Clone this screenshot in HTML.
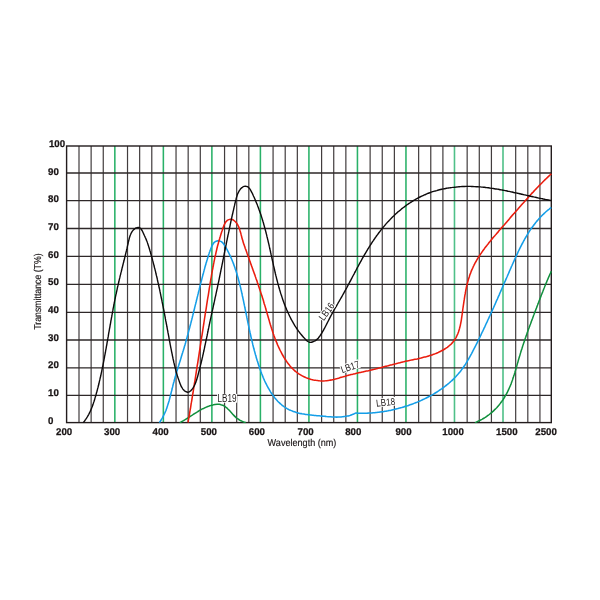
<!DOCTYPE html>
<html><head><meta charset="utf-8"><title>Transmittance</title>
<style>html,body{margin:0;padding:0;background:#fff}svg{display:block}text{font-family:"Liberation Sans",sans-serif}</style></head><body>
<svg width="600" height="600" viewBox="0 0 600 600">
<rect width="600" height="600" fill="#fff"/>
<path d="M79.00,146V422.6M91.13,146V422.6M103.26,146V422.6M127.52,146V422.6M139.65,146V422.6M151.78,146V422.6M176.04,146V422.6M188.17,146V422.6M200.30,146V422.6M224.56,146V422.6M236.69,146V422.6M248.82,146V422.6M273.08,146V422.6M285.21,146V422.6M297.34,146V422.6M321.60,146V422.6M333.73,146V422.6M345.86,146V422.6M370.12,146V422.6M382.25,146V422.6M394.38,146V422.6M418.64,146V422.6M430.77,146V422.6M442.90,146V422.6M467.16,146V422.6M479.29,146V422.6M491.42,146V422.6M515.68,146V422.6M527.81,146V422.6M539.94,146V422.6" stroke="#2e2829" stroke-width="1.2" fill="none" opacity="0.9"/>
<path d="M114.84,146V422.6M163.36,146V422.6M211.88,146V422.6M260.40,146V422.6M308.92,146V422.6M357.44,146V422.6M405.96,146V422.6" stroke="#29b168" stroke-width="1.55" fill="none"/>
<path d="M454.48,146V422.6M503.00,146V422.6" stroke="#4fc088" stroke-width="1.6" fill="none"/>
<path d="M66.6,173H551.3M66.6,200.7H551.3M66.6,228.5H551.3M66.6,256.3H551.3M66.6,284.4H551.3M66.6,312.3H551.3M66.6,340H551.3M66.6,367.8H551.3M66.6,395.3H551.3" stroke="#2e2829" stroke-width="1.3" fill="none"/>
<rect x="66.6" y="146" width="484.70" height="276.60" stroke="#231c1d" stroke-width="1.4" fill="none"/>
<clipPath id="c"><rect x="60" y="140" width="492" height="283.2"/></clipPath>
<g fill="none" stroke-linecap="butt" stroke-linejoin="round" clip-path="url(#c)">
<path d="M179.8,422.6C180.1,422.4 181.1,421.9 181.7,421.6C182.3,421.3 182.9,420.9 183.5,420.6C184.1,420.2 184.7,419.9 185.3,419.5C185.9,419.2 186.5,418.8 187.1,418.4C187.7,418.1 188.3,417.7 188.8,417.3C189.4,416.9 190.0,416.6 190.6,416.2C191.1,415.8 191.7,415.4 192.3,415.1C192.9,414.7 193.4,414.3 194.0,414.0C194.6,413.6 195.2,413.2 195.8,412.8C196.3,412.5 196.9,412.1 197.5,411.8C198.1,411.4 198.7,411.1 199.3,410.7C199.9,410.4 200.5,410.0 201.1,409.7C201.7,409.3 202.3,409.0 202.9,408.7C203.6,408.4 204.2,408.1 204.8,407.8C205.5,407.5 206.1,407.2 206.8,406.9C207.5,406.6 208.1,406.4 208.8,406.1C209.5,405.9 210.2,405.6 210.9,405.4C211.6,405.2 212.3,405.0 213.0,404.9C213.7,404.7 214.4,404.6 215.0,404.5C215.7,404.4 216.4,404.3 217.1,404.3C217.8,404.3 218.4,404.3 219.1,404.3C219.7,404.4 220.4,404.5 221.0,404.7C221.6,404.8 222.2,405.0 222.8,405.3C223.4,405.5 224.0,405.9 224.5,406.2C225.1,406.6 225.6,407.0 226.1,407.4C226.7,407.8 227.2,408.3 227.7,408.8C228.2,409.2 228.7,409.8 229.2,410.3C229.7,410.8 230.2,411.4 230.7,411.9C231.1,412.4 231.6,413.0 232.1,413.5C232.6,414.1 233.1,414.6 233.6,415.1C234.1,415.6 234.6,416.2 235.1,416.6C235.6,417.1 236.1,417.6 236.6,418.0C237.2,418.4 237.7,418.8 238.3,419.2C238.8,419.6 239.4,420.0 240.0,420.3C240.6,420.6 241.2,420.9 241.8,421.2C242.4,421.5 243.1,421.8 243.7,422.0C244.4,422.2 245.5,422.5 245.8,422.6" stroke="#0f8f3c" stroke-width="1.5"/>
<path d="M475.0,422.6C475.3,422.5 476.3,422.1 476.9,421.8C477.6,421.5 478.2,421.2 478.8,420.9C479.5,420.6 480.1,420.3 480.7,420.0C481.3,419.7 481.9,419.4 482.5,419.0C483.1,418.7 483.7,418.3 484.3,418.0C484.8,417.6 485.4,417.3 486.0,416.9C486.5,416.5 487.1,416.1 487.6,415.7C488.2,415.3 488.7,414.9 489.3,414.5C489.8,414.1 490.3,413.7 490.8,413.2C491.4,412.8 491.9,412.4 492.4,411.9C492.9,411.5 493.4,411.0 493.8,410.6C494.3,410.1 494.8,409.6 495.3,409.2C495.7,408.7 496.2,408.2 496.7,407.7C497.1,407.2 497.6,406.7 498.0,406.2C498.4,405.7 498.9,405.2 499.3,404.7C499.7,404.1 500.1,403.6 500.5,403.1C500.9,402.6 501.3,402.0 501.7,401.5C502.1,400.9 502.5,400.4 502.9,399.8C503.2,399.3 503.6,398.7 504.0,398.2C504.3,397.6 504.7,397.0 505.0,396.4C505.4,395.9 505.7,395.3 506.0,394.7C506.3,394.1 506.7,393.5 507.0,392.9C507.3,392.3 507.6,391.8 507.9,391.2C508.2,390.6 508.5,389.9 508.7,389.3C509.0,388.7 509.3,388.1 509.5,387.5C509.8,386.9 510.1,386.3 510.3,385.7C510.6,385.0 510.8,384.4 511.1,383.8C511.3,383.2 511.5,382.5 511.8,381.9C512.0,381.3 512.2,380.6 512.5,380.0C512.7,379.3 512.9,378.7 513.1,378.1C513.3,377.4 513.5,376.8 513.7,376.1C514.0,375.5 514.2,374.8 514.4,374.2C514.6,373.5 514.8,372.9 515.0,372.2C515.1,371.6 515.3,370.9 515.5,370.3C515.7,369.6 515.9,369.0 516.1,368.3C516.3,367.7 516.5,367.0 516.7,366.4C516.9,365.7 517.0,365.1 517.2,364.4C517.4,363.7 517.6,363.1 517.8,362.4C518.0,361.8 518.2,361.1 518.3,360.5C518.5,359.8 518.7,359.2 518.9,358.5C519.1,357.9 519.3,357.2 519.5,356.6C519.7,355.9 519.9,355.3 520.1,354.6C520.3,354.0 520.4,353.3 520.6,352.7C520.8,352.0 521.0,351.4 521.2,350.7C521.4,350.1 521.7,349.4 521.9,348.8C522.1,348.1 522.3,347.5 522.5,346.8C522.7,346.2 522.9,345.6 523.1,344.9C523.3,344.3 523.5,343.6 523.7,343.0C524.0,342.4 524.2,341.7 524.4,341.1C524.6,340.4 524.8,339.8 525.0,339.2C525.2,338.5 525.5,337.9 525.7,337.3C525.9,336.6 526.1,336.0 526.4,335.4C526.6,334.7 526.8,334.1 527.0,333.4C527.2,332.8 527.5,332.2 527.7,331.5C527.9,330.9 528.2,330.3 528.4,329.6C528.6,329.0 528.8,328.4 529.1,327.7C529.3,327.1 529.5,326.5 529.8,325.9C530.0,325.2 530.2,324.6 530.5,324.0C530.7,323.3 530.9,322.7 531.2,322.1C531.4,321.4 531.6,320.8 531.9,320.2C532.1,319.5 532.3,318.9 532.6,318.3C532.8,317.7 533.0,317.0 533.3,316.4C533.5,315.8 533.7,315.1 534.0,314.5C534.2,313.9 534.5,313.2 534.7,312.6C534.9,312.0 535.2,311.3 535.4,310.7C535.7,310.1 535.9,309.5 536.1,308.8C536.4,308.2 536.6,307.6 536.9,306.9C537.1,306.3 537.3,305.7 537.6,305.0C537.8,304.4 538.0,303.8 538.3,303.1C538.5,302.5 538.8,301.9 539.0,301.2C539.3,300.6 539.5,300.0 539.7,299.4C540.0,298.7 540.2,298.1 540.5,297.5C540.7,296.8 540.9,296.2 541.2,295.6C541.4,294.9 541.7,294.3 541.9,293.7C542.2,293.0 542.4,292.4 542.7,291.8C542.9,291.1 543.2,290.5 543.4,289.9C543.7,289.3 543.9,288.6 544.2,288.0C544.4,287.4 544.7,286.8 544.9,286.1C545.2,285.5 545.4,284.9 545.7,284.3C545.9,283.6 546.2,283.0 546.5,282.4C546.7,281.8 547.0,281.1 547.2,280.5C547.5,279.9 547.8,279.3 548.0,278.7C548.3,278.0 548.6,277.4 548.8,276.8C549.1,276.2 549.4,275.6 549.6,275.0C549.9,274.4 550.2,273.7 550.5,273.1C550.7,272.5 551.2,271.6 551.3,271.3" stroke="#0f8f3c" stroke-width="1.5"/>
<path d="M159.4,422.6C159.6,422.3 160.2,421.5 160.5,420.9C160.9,420.4 161.3,419.8 161.6,419.2C162.0,418.7 162.3,418.1 162.6,417.5C162.9,416.9 163.2,416.3 163.5,415.7C163.8,415.2 164.1,414.6 164.4,414.0C164.7,413.4 164.9,412.7 165.2,412.1C165.5,411.5 165.7,410.9 166.0,410.3C166.2,409.7 166.4,409.0 166.7,408.4C166.9,407.8 167.1,407.2 167.3,406.5C167.5,405.9 167.7,405.3 167.9,404.6C168.1,404.0 168.3,403.4 168.5,402.7C168.7,402.1 168.9,401.4 169.1,400.8C169.3,400.1 169.4,399.5 169.6,398.8C169.8,398.2 170.0,397.5 170.1,396.9C170.3,396.2 170.5,395.6 170.6,394.9C170.8,394.3 171.0,393.6 171.1,392.9C171.3,392.3 171.4,391.6 171.6,391.0C171.8,390.3 171.9,389.7 172.1,389.0C172.2,388.3 172.4,387.7 172.6,387.0C172.7,386.4 172.9,385.7 173.0,385.1C173.2,384.4 173.4,383.8 173.5,383.1C173.7,382.5 173.9,381.8 174.1,381.2C174.2,380.5 174.4,379.9 174.6,379.2C174.8,378.6 175.0,377.9 175.1,377.3C175.3,376.6 175.5,376.0 175.7,375.4C175.9,374.7 176.1,374.1 176.2,373.4C176.4,372.8 176.6,372.1 176.8,371.5C177.0,370.9 177.2,370.2 177.4,369.6C177.6,369.0 177.8,368.3 178.0,367.7C178.2,367.0 178.4,366.4 178.6,365.8C178.8,365.1 179.0,364.5 179.2,363.8C179.4,363.2 179.6,362.6 179.8,361.9C180.0,361.3 180.2,360.7 180.4,360.0C180.6,359.4 180.8,358.8 181.0,358.1C181.1,357.5 181.3,356.8 181.5,356.2C181.7,355.6 181.9,354.9 182.1,354.3C182.3,353.7 182.5,353.0 182.7,352.4C182.9,351.7 183.1,351.1 183.3,350.5C183.5,349.8 183.7,349.2 183.9,348.5C184.1,347.9 184.3,347.2 184.4,346.6C184.6,346.0 184.8,345.3 185.0,344.7C185.2,344.0 185.4,343.4 185.6,342.7C185.7,342.1 185.9,341.4 186.1,340.8C186.3,340.2 186.5,339.5 186.6,338.9C186.8,338.2 187.0,337.6 187.2,336.9C187.4,336.3 187.5,335.6 187.7,335.0C187.9,334.3 188.1,333.7 188.2,333.0C188.4,332.4 188.6,331.7 188.7,331.1C188.9,330.4 189.1,329.8 189.3,329.1C189.4,328.5 189.6,327.8 189.8,327.2C189.9,326.5 190.1,325.9 190.3,325.2C190.5,324.6 190.6,323.9 190.8,323.3C191.0,322.6 191.1,322.0 191.3,321.3C191.5,320.7 191.6,320.0 191.8,319.4C191.9,318.7 192.1,318.0 192.3,317.4C192.4,316.7 192.6,316.1 192.8,315.4C192.9,314.8 193.1,314.1 193.3,313.5C193.4,312.8 193.6,312.2 193.7,311.5C193.9,310.9 194.1,310.2 194.2,309.6C194.4,308.9 194.6,308.3 194.7,307.6C194.9,306.9 195.0,306.3 195.2,305.6C195.4,305.0 195.5,304.3 195.7,303.7C195.8,303.0 196.0,302.4 196.2,301.7C196.3,301.1 196.5,300.4 196.6,299.8C196.8,299.1 197.0,298.5 197.1,297.8C197.3,297.2 197.4,296.5 197.6,295.9C197.8,295.2 197.9,294.6 198.1,293.9C198.2,293.3 198.4,292.6 198.6,292.0C198.7,291.3 198.9,290.7 199.1,290.0C199.2,289.4 199.4,288.7 199.5,288.1C199.7,287.4 199.9,286.8 200.0,286.2C200.2,285.5 200.4,284.9 200.5,284.2C200.7,283.6 200.8,282.9 201.0,282.3C201.2,281.6 201.3,281.0 201.5,280.4C201.7,279.7 201.8,279.1 202.0,278.4C202.2,277.8 202.3,277.1 202.5,276.5C202.7,275.9 202.8,275.2 203.0,274.6C203.2,273.9 203.3,273.3 203.5,272.7C203.7,272.0 203.8,271.4 204.0,270.8C204.2,270.1 204.3,269.5 204.5,268.9C204.7,268.2 204.9,267.6 205.0,266.9C205.2,266.3 205.4,265.7 205.6,265.0C205.8,264.4 205.9,263.8 206.1,263.1C206.3,262.5 206.5,261.8 206.7,261.2C206.9,260.6 207.1,259.9 207.3,259.3C207.5,258.6 207.7,258.0 207.9,257.3C208.1,256.7 208.3,256.0 208.5,255.3C208.7,254.7 208.9,254.0 209.2,253.3C209.4,252.7 209.6,252.0 209.9,251.3C210.1,250.6 210.3,249.9 210.6,249.3C210.8,248.6 211.1,247.9 211.4,247.2C211.7,246.6 212.0,245.9 212.3,245.3C212.6,244.7 213.0,244.1 213.3,243.6C213.7,243.1 214.1,242.6 214.6,242.2C215.0,241.8 215.5,241.5 216.1,241.3C216.6,241.0 217.2,240.9 217.8,240.8C218.4,240.8 219.0,240.8 219.6,240.9C220.2,241.1 220.8,241.3 221.3,241.6C221.8,241.9 222.3,242.4 222.8,242.9C223.2,243.3 223.6,243.9 224.0,244.5C224.4,245.0 224.7,245.7 225.1,246.2C225.4,246.8 225.8,247.4 226.1,248.0C226.5,248.6 226.8,249.2 227.2,249.8C227.5,250.4 227.8,251.0 228.1,251.6C228.4,252.2 228.7,252.9 229.0,253.5C229.3,254.1 229.6,254.7 229.9,255.3C230.2,255.9 230.5,256.5 230.8,257.1C231.0,257.8 231.3,258.4 231.6,259.0C231.8,259.6 232.1,260.2 232.3,260.9C232.6,261.5 232.8,262.1 233.1,262.7C233.3,263.3 233.6,264.0 233.8,264.6C234.0,265.2 234.2,265.9 234.5,266.5C234.7,267.1 234.9,267.7 235.1,268.4C235.3,269.0 235.5,269.6 235.8,270.3C236.0,270.9 236.2,271.6 236.4,272.2C236.6,272.8 236.8,273.5 237.0,274.1C237.1,274.8 237.3,275.4 237.5,276.0C237.7,276.7 237.9,277.3 238.1,278.0C238.2,278.6 238.4,279.3 238.6,279.9C238.8,280.5 238.9,281.2 239.1,281.8C239.3,282.5 239.4,283.1 239.6,283.8C239.8,284.4 239.9,285.1 240.1,285.7C240.3,286.4 240.4,287.0 240.6,287.7C240.7,288.3 240.9,289.0 241.0,289.6C241.2,290.3 241.3,291.0 241.5,291.6C241.6,292.3 241.8,292.9 241.9,293.6C242.1,294.2 242.2,294.9 242.3,295.5C242.5,296.2 242.6,296.8 242.8,297.5C242.9,298.2 243.0,298.8 243.2,299.5C243.3,300.1 243.5,300.8 243.6,301.4C243.7,302.1 243.9,302.8 244.0,303.4C244.1,304.1 244.3,304.7 244.4,305.4C244.6,306.0 244.7,306.7 244.8,307.3C245.0,308.0 245.1,308.7 245.2,309.3C245.4,310.0 245.5,310.6 245.6,311.3C245.8,311.9 245.9,312.6 246.0,313.3C246.2,313.9 246.3,314.6 246.4,315.2C246.6,315.9 246.7,316.5 246.8,317.2C247.0,317.9 247.1,318.5 247.2,319.2C247.4,319.8 247.5,320.5 247.6,321.1C247.8,321.8 247.9,322.5 248.0,323.1C248.2,323.8 248.3,324.4 248.4,325.1C248.6,325.7 248.7,326.4 248.9,327.0C249.0,327.7 249.1,328.4 249.3,329.0C249.4,329.7 249.5,330.3 249.7,331.0C249.8,331.6 250.0,332.3 250.1,332.9C250.3,333.6 250.4,334.2 250.6,334.9C250.7,335.6 250.8,336.2 251.0,336.9C251.1,337.5 251.3,338.2 251.4,338.8C251.6,339.5 251.7,340.1 251.9,340.8C252.1,341.4 252.2,342.1 252.4,342.7C252.5,343.4 252.7,344.0 252.8,344.7C253.0,345.3 253.2,346.0 253.3,346.6C253.5,347.3 253.7,347.9 253.8,348.6C254.0,349.2 254.2,349.9 254.3,350.5C254.5,351.2 254.7,351.8 254.9,352.4C255.0,353.1 255.2,353.7 255.4,354.4C255.6,355.0 255.8,355.7 256.0,356.3C256.1,357.0 256.3,357.6 256.5,358.2C256.7,358.9 256.9,359.5 257.1,360.2C257.3,360.8 257.5,361.4 257.7,362.1C257.9,362.7 258.1,363.4 258.3,364.0C258.5,364.6 258.7,365.3 258.9,365.9C259.2,366.5 259.4,367.2 259.6,367.8C259.8,368.5 260.0,369.1 260.3,369.7C260.5,370.4 260.7,371.0 260.9,371.6C261.2,372.3 261.4,372.9 261.6,373.5C261.9,374.1 262.1,374.8 262.4,375.4C262.6,376.0 262.9,376.6 263.1,377.3C263.4,377.9 263.7,378.5 263.9,379.1C264.2,379.7 264.5,380.4 264.7,381.0C265.0,381.6 265.3,382.2 265.6,382.8C265.9,383.4 266.2,384.0 266.5,384.6C266.8,385.2 267.1,385.8 267.4,386.4C267.7,387.0 268.0,387.6 268.4,388.2C268.7,388.8 269.0,389.3 269.4,389.9C269.7,390.5 270.1,391.1 270.4,391.6C270.8,392.2 271.1,392.8 271.5,393.3C271.9,393.9 272.3,394.4 272.7,395.0C273.1,395.5 273.5,396.1 273.9,396.6C274.3,397.2 274.7,397.7 275.1,398.2C275.6,398.7 276.0,399.3 276.4,399.8C276.9,400.3 277.3,400.8 277.8,401.3C278.3,401.7 278.7,402.2 279.2,402.7C279.7,403.1 280.2,403.6 280.7,404.0C281.2,404.5 281.7,404.9 282.2,405.3C282.7,405.7 283.2,406.2 283.8,406.5C284.3,406.9 284.8,407.3 285.4,407.6C286.0,408.0 286.5,408.3 287.1,408.7C287.6,409.0 288.2,409.3 288.8,409.6C289.4,409.9 290.0,410.1 290.6,410.4C291.2,410.7 291.8,410.9 292.4,411.1C293.0,411.4 293.6,411.6 294.3,411.8C294.9,412.0 295.5,412.2 296.2,412.4C296.8,412.6 297.4,412.8 298.1,412.9C298.7,413.1 299.4,413.2 300.0,413.4C300.7,413.5 301.4,413.7 302.0,413.8C302.7,413.9 303.4,414.0 304.0,414.1C304.7,414.3 305.4,414.4 306.0,414.5C306.7,414.6 307.4,414.6 308.1,414.7C308.8,414.8 309.4,414.9 310.1,415.0C310.8,415.1 311.5,415.1 312.2,415.2C312.9,415.3 313.5,415.3 314.2,415.4C314.9,415.5 315.6,415.5 316.3,415.6C317.0,415.6 317.6,415.7 318.3,415.8C319.0,415.8 319.7,415.9 320.4,415.9C321.1,416.0 321.7,416.1 322.4,416.1C323.1,416.2 323.8,416.2 324.4,416.3C325.1,416.4 325.8,416.4 326.4,416.5C327.1,416.5 327.8,416.6 328.4,416.7C329.1,416.7 329.8,416.8 330.4,416.8C331.1,416.9 331.7,416.9 332.4,416.9C333.0,417.0 333.7,417.0 334.4,417.0C335.0,417.0 335.7,417.1 336.3,417.1C337.0,417.1 337.6,417.1 338.3,417.0C338.9,417.0 339.6,417.0 340.2,417.0C340.9,416.9 341.5,416.9 342.2,416.8C342.8,416.8 343.5,416.7 344.1,416.6C344.8,416.5 345.4,416.4 346.1,416.3C346.7,416.2 347.4,416.0 348.0,415.9C348.7,415.7 349.3,415.6 350.0,415.4C350.6,415.2 351.3,415.0 351.9,414.7C352.5,414.5 353.2,414.3 353.8,414.0C354.5,413.7 355.1,413.2 355.8,413.1C356.5,413.0 357.2,413.2 357.8,413.2C358.5,413.2 359.2,413.2 359.9,413.2C360.6,413.2 361.2,413.2 361.9,413.2C362.6,413.2 363.3,413.2 363.9,413.2C364.6,413.2 365.3,413.2 366.0,413.2C366.6,413.2 367.3,413.1 368.0,413.1C368.7,413.1 369.3,413.0 370.0,413.0C370.7,413.0 371.4,412.9 372.0,412.9C372.7,412.8 373.4,412.8 374.0,412.7C374.7,412.7 375.4,412.6 376.0,412.5C376.7,412.5 377.4,412.4 378.0,412.3C378.7,412.2 379.4,412.2 380.0,412.1C380.7,412.0 381.4,411.9 382.0,411.8C382.7,411.7 383.3,411.6 384.0,411.5C384.7,411.4 385.3,411.3 386.0,411.2C386.7,411.0 387.3,410.9 388.0,410.8C388.6,410.7 389.3,410.5 389.9,410.4C390.6,410.3 391.3,410.1 391.9,410.0C392.6,409.9 393.2,409.7 393.9,409.6C394.5,409.4 395.2,409.3 395.8,409.1C396.5,408.9 397.1,408.8 397.8,408.6C398.4,408.4 399.1,408.3 399.7,408.1C400.4,407.9 401.0,407.7 401.7,407.5C402.3,407.3 403.0,407.1 403.6,406.9C404.3,406.8 404.9,406.6 405.6,406.3C406.2,406.1 406.8,405.9 407.5,405.7C408.1,405.5 408.8,405.3 409.4,405.1C410.0,404.8 410.7,404.6 411.3,404.4C412.0,404.2 412.6,403.9 413.2,403.7C413.9,403.4 414.5,403.2 415.1,402.9C415.8,402.7 416.4,402.4 417.0,402.2C417.7,401.9 418.3,401.7 418.9,401.4C419.5,401.1 420.2,400.9 420.8,400.6C421.4,400.3 422.0,400.0 422.6,399.7C423.2,399.4 423.9,399.2 424.5,398.9C425.1,398.6 425.7,398.3 426.3,398.0C426.9,397.7 427.5,397.3 428.1,397.0C428.7,396.7 429.3,396.4 429.9,396.1C430.5,395.8 431.1,395.4 431.7,395.1C432.3,394.8 432.9,394.4 433.5,394.1C434.1,393.7 434.6,393.4 435.2,393.0C435.8,392.7 436.4,392.3 436.9,392.0C437.5,391.6 438.1,391.2 438.6,390.9C439.2,390.5 439.8,390.1 440.3,389.7C440.9,389.4 441.4,389.0 442.0,388.6C442.5,388.2 443.1,387.8 443.6,387.4C444.2,387.0 444.7,386.6 445.2,386.2C445.8,385.8 446.3,385.4 446.8,384.9C447.4,384.5 447.9,384.1 448.4,383.7C448.9,383.2 449.4,382.8 449.9,382.3C450.4,381.9 450.9,381.5 451.4,381.0C451.9,380.6 452.4,380.1 452.9,379.6C453.3,379.2 453.8,378.7 454.3,378.2C454.8,377.8 455.2,377.3 455.7,376.8C456.1,376.3 456.6,375.8 457.0,375.3C457.5,374.8 457.9,374.3 458.4,373.8C458.8,373.3 459.2,372.8 459.6,372.3C460.1,371.8 460.5,371.2 460.9,370.7C461.3,370.2 461.7,369.6 462.1,369.1C462.5,368.6 462.9,368.0 463.3,367.5C463.6,366.9 464.0,366.4 464.4,365.8C464.8,365.3 465.1,364.7 465.5,364.1C465.8,363.6 466.2,363.0 466.6,362.4C466.9,361.9 467.3,361.3 467.6,360.7C467.9,360.1 468.3,359.5 468.6,359.0C469.0,358.4 469.3,357.8 469.6,357.2C470.0,356.6 470.3,356.0 470.6,355.4C470.9,354.8 471.2,354.2 471.6,353.6C471.9,353.0 472.2,352.4 472.5,351.8C472.8,351.2 473.1,350.6 473.4,350.0C473.8,349.4 474.1,348.8 474.4,348.2C474.7,347.6 475.0,347.0 475.3,346.4C475.6,345.8 475.9,345.2 476.2,344.6C476.5,344.0 476.8,343.4 477.1,342.8C477.4,342.2 477.7,341.6 478.0,341.0C478.3,340.4 478.6,339.7 478.9,339.1C479.2,338.5 479.5,337.9 479.8,337.3C480.1,336.7 480.4,336.1 480.7,335.5C481.0,334.9 481.2,334.3 481.5,333.7C481.8,333.1 482.1,332.5 482.4,331.8C482.7,331.2 483.0,330.6 483.3,330.0C483.6,329.4 483.8,328.8 484.1,328.2C484.4,327.6 484.7,327.0 485.0,326.4C485.3,325.7 485.6,325.1 485.8,324.5C486.1,323.9 486.4,323.3 486.7,322.7C487.0,322.1 487.3,321.5 487.5,320.9C487.8,320.2 488.1,319.6 488.4,319.0C488.7,318.4 488.9,317.8 489.2,317.2C489.5,316.6 489.8,316.0 490.1,315.3C490.3,314.7 490.6,314.1 490.9,313.5C491.2,312.9 491.4,312.3 491.7,311.7C492.0,311.1 492.3,310.4 492.5,309.8C492.8,309.2 493.1,308.6 493.4,308.0C493.6,307.4 493.9,306.8 494.2,306.1C494.5,305.5 494.7,304.9 495.0,304.3C495.3,303.7 495.6,303.1 495.8,302.5C496.1,301.8 496.4,301.2 496.6,300.6C496.9,300.0 497.2,299.4 497.5,298.8C497.7,298.1 498.0,297.5 498.3,296.9C498.5,296.3 498.8,295.7 499.1,295.1C499.4,294.4 499.6,293.8 499.9,293.2C500.2,292.6 500.4,292.0 500.7,291.4C501.0,290.7 501.2,290.1 501.5,289.5C501.8,288.9 502.1,288.3 502.3,287.6C502.6,287.0 502.9,286.4 503.1,285.8C503.4,285.2 503.7,284.6 503.9,283.9C504.2,283.3 504.5,282.7 504.7,282.1C505.0,281.5 505.3,280.8 505.6,280.2C505.8,279.6 506.1,279.0 506.4,278.4C506.6,277.7 506.9,277.1 507.2,276.5C507.4,275.9 507.7,275.3 508.0,274.6C508.3,274.0 508.5,273.4 508.8,272.8C509.1,272.2 509.3,271.5 509.6,270.9C509.9,270.3 510.2,269.7 510.4,269.1C510.7,268.4 511.0,267.8 511.2,267.2C511.5,266.6 511.8,266.0 512.1,265.3C512.3,264.7 512.6,264.1 512.9,263.5C513.2,262.9 513.4,262.2 513.7,261.6C514.0,261.0 514.3,260.4 514.5,259.8C514.8,259.1 515.1,258.5 515.4,257.9C515.7,257.3 515.9,256.7 516.2,256.0C516.5,255.4 516.8,254.8 517.1,254.2C517.4,253.6 517.7,253.0 517.9,252.4C518.2,251.7 518.5,251.1 518.8,250.5C519.1,249.9 519.4,249.3 519.7,248.7C520.0,248.1 520.3,247.5 520.6,246.9C520.9,246.3 521.2,245.7 521.5,245.1C521.8,244.5 522.1,243.9 522.5,243.3C522.8,242.7 523.1,242.1 523.4,241.5C523.7,240.9 524.0,240.3 524.4,239.7C524.7,239.1 525.0,238.5 525.4,238.0C525.7,237.4 526.0,236.8 526.4,236.2C526.7,235.6 527.1,235.1 527.4,234.5C527.8,233.9 528.1,233.4 528.5,232.8C528.8,232.2 529.2,231.7 529.5,231.1C529.9,230.6 530.3,230.0 530.7,229.4C531.0,228.9 531.4,228.3 531.8,227.8C532.2,227.3 532.6,226.7 533.0,226.2C533.3,225.6 533.7,225.1 534.2,224.6C534.6,224.0 535.0,223.5 535.4,223.0C535.8,222.5 536.2,222.0 536.6,221.4C537.1,220.9 537.5,220.4 537.9,219.9C538.4,219.4 538.8,218.9 539.3,218.4C539.7,217.9 540.2,217.4 540.6,216.9C541.1,216.5 541.6,216.0 542.0,215.5C542.5,215.0 543.0,214.5 543.5,214.1C544.0,213.6 544.4,213.2 544.9,212.7C545.4,212.2 546.0,211.8 546.5,211.3C547.0,210.9 547.5,210.5 548.0,210.0C548.6,209.6 549.1,209.2 549.6,208.7C550.2,208.3 551.0,207.7 551.3,207.5" stroke="#149ee8" stroke-width="1.55"/>
<path d="M188.0,422.6C188.1,422.3 188.2,421.3 188.3,420.6C188.5,420.0 188.6,419.3 188.7,418.7C188.8,418.0 188.9,417.4 189.0,416.7C189.1,416.0 189.2,415.4 189.4,414.7C189.5,414.1 189.6,413.4 189.7,412.8C189.8,412.1 189.9,411.4 190.0,410.8C190.1,410.1 190.2,409.5 190.4,408.8C190.5,408.1 190.6,407.5 190.7,406.8C190.8,406.2 190.9,405.5 191.0,404.9C191.1,404.2 191.2,403.5 191.3,402.9C191.4,402.2 191.6,401.6 191.7,400.9C191.8,400.2 191.9,399.6 192.0,398.9C192.1,398.3 192.2,397.6 192.3,396.9C192.4,396.3 192.5,395.6 192.6,395.0C192.7,394.3 192.8,393.6 193.0,393.0C193.1,392.3 193.2,391.7 193.3,391.0C193.4,390.3 193.5,389.7 193.6,389.0C193.7,388.4 193.8,387.7 193.9,387.0C194.0,386.4 194.1,385.7 194.2,385.1C194.3,384.4 194.4,383.7 194.5,383.1C194.6,382.4 194.8,381.7 194.9,381.1C195.0,380.4 195.1,379.8 195.2,379.1C195.3,378.4 195.4,377.8 195.5,377.1C195.6,376.5 195.7,375.8 195.8,375.1C195.9,374.5 196.0,373.8 196.1,373.1C196.2,372.5 196.3,371.8 196.4,371.2C196.5,370.5 196.6,369.8 196.7,369.2C196.8,368.5 196.9,367.8 197.0,367.2C197.1,366.5 197.2,365.9 197.3,365.2C197.5,364.5 197.6,363.9 197.7,363.2C197.8,362.5 197.9,361.9 198.0,361.2C198.1,360.6 198.2,359.9 198.3,359.2C198.4,358.6 198.5,357.9 198.6,357.2C198.7,356.6 198.8,355.9 198.9,355.3C199.0,354.6 199.1,353.9 199.2,353.3C199.3,352.6 199.4,351.9 199.5,351.3C199.6,350.6 199.7,350.0 199.8,349.3C199.9,348.6 200.0,348.0 200.1,347.3C200.2,346.6 200.3,346.0 200.4,345.3C200.5,344.7 200.6,344.0 200.7,343.3C200.8,342.7 200.9,342.0 201.0,341.3C201.1,340.7 201.2,340.0 201.3,339.4C201.4,338.7 201.5,338.0 201.6,337.4C201.7,336.7 201.9,336.1 202.0,335.4C202.1,334.7 202.2,334.1 202.3,333.4C202.4,332.7 202.5,332.1 202.6,331.4C202.7,330.8 202.8,330.1 202.9,329.4C203.0,328.8 203.1,328.1 203.2,327.4C203.3,326.8 203.4,326.1 203.5,325.5C203.6,324.8 203.7,324.1 203.8,323.5C203.9,322.8 204.0,322.2 204.1,321.5C204.2,320.8 204.3,320.2 204.4,319.5C204.5,318.9 204.6,318.2 204.7,317.5C204.8,316.9 204.9,316.2 205.0,315.6C205.1,314.9 205.2,314.2 205.3,313.6C205.4,312.9 205.5,312.3 205.6,311.6C205.8,310.9 205.9,310.3 206.0,309.6C206.1,309.0 206.2,308.3 206.3,307.6C206.4,307.0 206.5,306.3 206.6,305.7C206.7,305.0 206.8,304.3 206.9,303.7C207.0,303.0 207.1,302.4 207.2,301.7C207.3,301.0 207.4,300.4 207.5,299.7C207.6,299.1 207.7,298.4 207.8,297.8C207.9,297.1 208.1,296.4 208.2,295.8C208.3,295.1 208.4,294.5 208.5,293.8C208.6,293.1 208.7,292.5 208.8,291.8C208.9,291.2 209.0,290.5 209.1,289.9C209.2,289.2 209.3,288.6 209.4,287.9C209.5,287.2 209.6,286.6 209.8,285.9C209.9,285.3 210.0,284.6 210.1,284.0C210.2,283.3 210.3,282.6 210.4,282.0C210.5,281.3 210.6,280.7 210.7,280.0C210.8,279.4 210.9,278.7 211.1,278.1C211.2,277.4 211.3,276.8 211.4,276.1C211.5,275.4 211.6,274.8 211.7,274.1C211.8,273.5 212.0,272.8 212.1,272.2C212.2,271.5 212.3,270.9 212.4,270.2C212.5,269.6 212.7,268.9 212.8,268.3C212.9,267.6 213.0,266.9 213.2,266.3C213.3,265.6 213.4,265.0 213.5,264.3C213.7,263.7 213.8,263.0 213.9,262.4C214.0,261.7 214.2,261.1 214.3,260.4C214.4,259.8 214.6,259.1 214.7,258.4C214.8,257.8 215.0,257.1 215.1,256.5C215.3,255.8 215.4,255.2 215.6,254.5C215.7,253.9 215.9,253.2 216.0,252.6C216.2,251.9 216.3,251.2 216.5,250.6C216.6,249.9 216.8,249.3 216.9,248.6C217.1,248.0 217.3,247.3 217.4,246.6C217.6,246.0 217.8,245.3 217.9,244.7C218.1,244.0 218.3,243.4 218.5,242.7C218.7,242.0 218.8,241.4 219.0,240.7C219.2,240.1 219.4,239.4 219.6,238.8C219.8,238.1 220.0,237.4 220.2,236.8C220.4,236.1 220.6,235.5 220.8,234.8C221.0,234.1 221.2,233.5 221.4,232.8C221.6,232.1 221.8,231.5 222.1,230.8C222.3,230.2 222.5,229.5 222.7,228.8C223.0,228.2 223.2,227.5 223.4,226.9C223.7,226.2 223.9,225.5 224.2,224.9C224.5,224.3 224.8,223.7 225.1,223.2C225.4,222.6 225.7,222.1 226.1,221.6C226.5,221.2 226.9,220.8 227.3,220.4C227.8,220.1 228.3,219.8 228.8,219.6C229.3,219.4 229.9,219.3 230.4,219.3C231.0,219.3 231.6,219.4 232.1,219.5C232.7,219.7 233.3,220.0 233.8,220.3C234.3,220.6 234.8,221.0 235.2,221.5C235.7,222.0 236.1,222.5 236.5,223.1C236.9,223.6 237.3,224.3 237.7,224.9C238.0,225.5 238.4,226.2 238.7,226.9C239.0,227.6 239.2,228.3 239.5,228.9C239.7,229.6 239.9,230.3 240.1,231.0C240.3,231.6 240.5,232.3 240.7,232.9C240.9,233.6 241.0,234.2 241.2,234.9C241.4,235.5 241.5,236.2 241.7,236.8C241.8,237.4 242.0,238.1 242.2,238.7C242.4,239.3 242.6,240.0 242.8,240.6C242.9,241.2 243.1,241.9 243.3,242.5C243.5,243.1 243.7,243.8 243.9,244.4C244.2,245.0 244.4,245.7 244.6,246.3C244.8,246.9 245.0,247.5 245.2,248.2C245.4,248.8 245.7,249.4 245.9,250.1C246.1,250.7 246.3,251.3 246.6,251.9C246.8,252.6 247.0,253.2 247.2,253.8C247.5,254.5 247.7,255.1 247.9,255.7C248.1,256.3 248.4,257.0 248.6,257.6C248.8,258.2 249.0,258.8 249.3,259.5C249.5,260.1 249.7,260.7 249.9,261.4C250.2,262.0 250.4,262.6 250.6,263.2C250.8,263.9 251.1,264.5 251.3,265.1C251.5,265.8 251.7,266.4 252.0,267.0C252.2,267.7 252.4,268.3 252.6,268.9C252.9,269.5 253.1,270.2 253.3,270.8C253.5,271.4 253.8,272.1 254.0,272.7C254.2,273.3 254.4,274.0 254.7,274.6C254.9,275.2 255.1,275.8 255.3,276.5C255.6,277.1 255.8,277.7 256.0,278.4C256.2,279.0 256.4,279.6 256.7,280.3C256.9,280.9 257.1,281.5 257.3,282.2C257.5,282.8 257.7,283.4 258.0,284.1C258.2,284.7 258.4,285.3 258.6,286.0C258.8,286.6 259.0,287.2 259.2,287.9C259.5,288.5 259.7,289.2 259.9,289.8C260.1,290.4 260.3,291.1 260.5,291.7C260.7,292.3 260.9,293.0 261.1,293.6C261.3,294.2 261.5,294.9 261.8,295.5C262.0,296.2 262.2,296.8 262.4,297.4C262.6,298.1 262.8,298.7 263.0,299.3C263.2,300.0 263.4,300.6 263.6,301.3C263.7,301.9 263.9,302.5 264.1,303.2C264.3,303.8 264.5,304.5 264.7,305.1C264.9,305.8 265.1,306.4 265.3,307.0C265.5,307.7 265.7,308.3 265.8,309.0C266.0,309.6 266.2,310.2 266.4,310.9C266.6,311.5 266.8,312.2 266.9,312.8C267.1,313.5 267.3,314.1 267.5,314.7C267.7,315.4 267.9,316.0 268.1,316.7C268.2,317.3 268.4,318.0 268.6,318.6C268.8,319.2 269.0,319.9 269.2,320.5C269.4,321.2 269.5,321.8 269.7,322.4C269.9,323.1 270.1,323.7 270.3,324.4C270.5,325.0 270.7,325.6 270.9,326.3C271.1,326.9 271.3,327.5 271.5,328.2C271.7,328.8 271.9,329.4 272.1,330.1C272.3,330.7 272.5,331.3 272.7,332.0C272.9,332.6 273.2,333.2 273.4,333.9C273.6,334.5 273.8,335.1 274.0,335.8C274.3,336.4 274.5,337.0 274.7,337.6C274.9,338.3 275.2,338.9 275.4,339.5C275.7,340.1 275.9,340.7 276.2,341.4C276.4,342.0 276.7,342.6 276.9,343.2C277.2,343.8 277.4,344.4 277.7,345.1C278.0,345.7 278.2,346.3 278.5,346.9C278.8,347.5 279.1,348.1 279.4,348.7C279.6,349.3 279.9,349.9 280.2,350.5C280.5,351.1 280.8,351.7 281.2,352.3C281.5,352.9 281.8,353.5 282.1,354.1C282.4,354.7 282.8,355.3 283.1,355.9C283.4,356.5 283.8,357.0 284.1,357.6C284.5,358.2 284.8,358.8 285.2,359.3C285.6,359.9 286.0,360.5 286.3,361.0C286.7,361.6 287.1,362.1 287.5,362.7C287.9,363.2 288.3,363.8 288.7,364.3C289.1,364.8 289.6,365.3 290.0,365.9C290.4,366.4 290.9,366.9 291.3,367.4C291.8,367.9 292.2,368.3 292.7,368.8C293.2,369.3 293.6,369.7 294.1,370.2C294.6,370.6 295.1,371.1 295.6,371.5C296.1,371.9 296.7,372.3 297.2,372.7C297.7,373.1 298.3,373.5 298.8,373.9C299.4,374.2 299.9,374.6 300.5,374.9C301.1,375.3 301.6,375.6 302.2,375.9C302.8,376.2 303.4,376.5 304.0,376.8C304.6,377.1 305.2,377.4 305.8,377.6C306.4,377.9 307.1,378.1 307.7,378.3C308.3,378.6 309.0,378.8 309.6,379.0C310.2,379.2 310.9,379.3 311.5,379.5C312.2,379.7 312.8,379.8 313.5,380.0C314.2,380.1 314.8,380.2 315.5,380.3C316.1,380.4 316.8,380.5 317.5,380.6C318.1,380.7 318.8,380.7 319.5,380.8C320.1,380.8 320.8,380.8 321.5,380.9C322.2,380.9 322.8,380.9 323.5,380.9C324.2,380.8 324.8,380.8 325.5,380.8C326.2,380.7 326.8,380.6 327.5,380.6C328.2,380.5 328.8,380.4 329.5,380.3C330.1,380.2 330.8,380.0 331.5,379.9C332.1,379.8 332.8,379.6 333.4,379.5C334.1,379.3 334.7,379.2 335.4,379.0C336.0,378.8 336.7,378.6 337.3,378.5C338.0,378.3 338.6,378.1 339.3,377.9C339.9,377.7 340.6,377.5 341.2,377.3C341.9,377.1 342.5,376.9 343.1,376.8C343.8,376.6 344.4,376.4 345.1,376.2C345.7,376.0 346.4,375.8 347.0,375.6C347.7,375.5 348.3,375.3 349.0,375.1C349.6,375.0 350.2,374.8 350.9,374.6C351.5,374.5 352.2,374.3 352.8,374.2C353.5,374.0 354.1,373.8 354.8,373.7C355.4,373.5 356.1,373.4 356.7,373.2C357.4,373.1 358.0,373.0 358.6,372.8C359.3,372.7 359.9,372.5 360.6,372.4C361.2,372.2 361.9,372.1 362.5,372.0C363.2,371.8 363.8,371.7 364.5,371.5C365.1,371.4 365.8,371.2 366.4,371.1C367.1,371.0 367.7,370.8 368.4,370.7C369.0,370.5 369.7,370.4 370.3,370.2C371.0,370.0 371.6,369.9 372.3,369.7C372.9,369.6 373.6,369.4 374.2,369.3C374.9,369.1 375.5,368.9 376.2,368.8C376.9,368.6 377.5,368.4 378.2,368.3C378.8,368.1 379.5,367.9 380.1,367.8C380.8,367.6 381.4,367.4 382.1,367.3C382.7,367.1 383.4,366.9 384.0,366.7C384.7,366.6 385.3,366.4 386.0,366.2C386.6,366.0 387.3,365.9 388.0,365.7C388.6,365.5 389.3,365.4 389.9,365.2C390.6,365.0 391.2,364.8 391.9,364.7C392.5,364.5 393.2,364.3 393.8,364.2C394.5,364.0 395.1,363.8 395.8,363.7C396.4,363.5 397.1,363.3 397.7,363.2C398.4,363.0 399.0,362.8 399.7,362.7C400.3,362.5 401.0,362.4 401.6,362.2C402.3,362.1 402.9,361.9 403.6,361.8C404.2,361.6 404.8,361.5 405.5,361.3C406.1,361.2 406.8,361.0 407.4,360.9C408.1,360.7 408.7,360.6 409.4,360.5C410.0,360.3 410.6,360.2 411.3,360.1C411.9,359.9 412.6,359.8 413.2,359.7C413.8,359.5 414.5,359.4 415.1,359.3C415.8,359.1 416.4,359.0 417.0,358.9C417.7,358.7 418.3,358.6 419.0,358.4C419.6,358.3 420.3,358.1 420.9,358.0C421.5,357.8 422.2,357.7 422.8,357.5C423.5,357.4 424.1,357.2 424.8,357.0C425.4,356.9 426.0,356.7 426.7,356.5C427.3,356.3 428.0,356.1 428.6,355.9C429.3,355.8 429.9,355.5 430.6,355.3C431.2,355.1 431.9,354.9 432.5,354.7C433.2,354.4 433.8,354.2 434.5,354.0C435.1,353.7 435.8,353.5 436.4,353.2C437.1,352.9 437.7,352.6 438.3,352.4C439.0,352.1 439.6,351.8 440.2,351.5C440.8,351.2 441.5,350.9 442.1,350.5C442.7,350.2 443.3,349.9 443.9,349.5C444.5,349.2 445.0,348.8 445.6,348.4C446.2,348.1 446.7,347.7 447.3,347.3C447.8,346.9 448.3,346.5 448.8,346.1C449.4,345.7 449.9,345.2 450.3,344.8C450.8,344.4 451.3,343.9 451.7,343.4C452.2,343.0 452.6,342.5 453.0,342.0C453.4,341.5 453.8,341.0 454.2,340.5C454.5,340.0 454.9,339.4 455.2,338.9C455.5,338.4 455.9,337.8 456.2,337.3C456.5,336.7 456.7,336.1 457.0,335.5C457.3,335.0 457.5,334.4 457.8,333.8C458.0,333.2 458.2,332.6 458.5,332.0C458.7,331.3 458.9,330.7 459.1,330.1C459.3,329.5 459.4,328.8 459.6,328.2C459.8,327.5 460.0,326.9 460.1,326.2C460.3,325.6 460.4,324.9 460.5,324.3C460.7,323.6 460.8,322.9 460.9,322.3C461.1,321.6 461.2,320.9 461.3,320.3C461.4,319.6 461.5,318.9 461.6,318.2C461.7,317.5 461.8,316.9 461.9,316.2C462.0,315.5 462.1,314.8 462.2,314.1C462.3,313.4 462.4,312.8 462.5,312.1C462.6,311.4 462.7,310.7 462.7,310.0C462.8,309.3 462.9,308.7 463.0,308.0C463.1,307.3 463.2,306.6 463.3,305.9C463.4,305.3 463.5,304.6 463.6,303.9C463.7,303.2 463.8,302.6 463.9,301.9C464.0,301.2 464.1,300.5 464.2,299.9C464.3,299.2 464.4,298.5 464.5,297.8C464.6,297.2 464.7,296.5 464.8,295.8C464.9,295.2 465.0,294.5 465.2,293.9C465.3,293.2 465.4,292.5 465.5,291.9C465.6,291.2 465.8,290.6 465.9,289.9C466.0,289.2 466.2,288.6 466.3,287.9C466.4,287.3 466.6,286.6 466.7,286.0C466.9,285.3 467.0,284.7 467.2,284.1C467.4,283.4 467.5,282.8 467.7,282.1C467.9,281.5 468.0,280.9 468.2,280.2C468.4,279.6 468.6,279.0 468.8,278.3C469.0,277.7 469.2,277.1 469.4,276.5C469.6,275.8 469.8,275.2 470.0,274.6C470.2,274.0 470.4,273.4 470.7,272.8C470.9,272.1 471.1,271.5 471.4,270.9C471.6,270.3 471.9,269.7 472.2,269.1C472.4,268.5 472.7,267.9 473.0,267.3C473.2,266.7 473.5,266.1 473.8,265.6C474.1,265.0 474.4,264.4 474.7,263.8C475.0,263.2 475.3,262.6 475.7,262.1C476.0,261.5 476.3,260.9 476.6,260.3C477.0,259.8 477.3,259.2 477.6,258.6C478.0,258.1 478.3,257.5 478.7,256.9C479.0,256.4 479.4,255.8 479.8,255.3C480.1,254.7 480.5,254.2 480.9,253.6C481.3,253.1 481.6,252.5 482.0,252.0C482.4,251.4 482.8,250.9 483.2,250.3C483.6,249.8 484.0,249.2 484.4,248.7C484.8,248.1 485.2,247.6 485.6,247.1C486.0,246.5 486.4,246.0 486.8,245.5C487.2,244.9 487.7,244.4 488.1,243.9C488.5,243.3 488.9,242.8 489.3,242.3C489.8,241.7 490.2,241.2 490.6,240.7C491.1,240.2 491.5,239.6 491.9,239.1C492.4,238.6 492.8,238.1 493.2,237.6C493.7,237.0 494.1,236.5 494.6,236.0C495.0,235.5 495.4,235.0 495.9,234.5C496.3,233.9 496.8,233.4 497.2,232.9C497.7,232.4 498.1,231.9 498.5,231.4C499.0,230.9 499.4,230.3 499.9,229.8C500.3,229.3 500.8,228.8 501.2,228.3C501.7,227.8 502.1,227.3 502.5,226.8C503.0,226.3 503.4,225.7 503.9,225.2C504.3,224.7 504.8,224.2 505.2,223.7C505.6,223.2 506.1,222.7 506.5,222.2C506.9,221.7 507.4,221.2 507.8,220.7C508.3,220.2 508.7,219.7 509.1,219.2C509.6,218.7 510.0,218.1 510.4,217.6C510.9,217.1 511.3,216.6 511.7,216.1C512.2,215.6 512.6,215.1 513.0,214.6C513.5,214.1 513.9,213.6 514.4,213.1C514.8,212.6 515.2,212.1 515.7,211.6C516.1,211.1 516.5,210.6 517.0,210.1C517.4,209.6 517.8,209.1 518.3,208.6C518.7,208.1 519.1,207.6 519.6,207.1C520.0,206.6 520.4,206.1 520.9,205.6C521.3,205.1 521.7,204.6 522.2,204.1C522.6,203.6 523.1,203.1 523.5,202.7C523.9,202.2 524.4,201.7 524.8,201.2C525.2,200.7 525.7,200.2 526.1,199.7C526.6,199.2 527.0,198.7 527.5,198.2C527.9,197.7 528.3,197.2 528.8,196.8C529.2,196.3 529.7,195.8 530.1,195.3C530.6,194.8 531.0,194.3 531.5,193.8C531.9,193.3 532.4,192.8 532.8,192.4C533.3,191.9 533.7,191.4 534.2,190.9C534.6,190.4 535.1,189.9 535.5,189.5C536.0,189.0 536.5,188.5 536.9,188.0C537.4,187.5 537.8,187.1 538.3,186.6C538.8,186.1 539.2,185.6 539.7,185.1C540.2,184.7 540.6,184.2 541.1,183.7C541.6,183.2 542.0,182.7 542.5,182.3C543.0,181.8 543.5,181.3 544.0,180.8C544.4,180.4 544.9,179.9 545.4,179.4C545.9,179.0 546.4,178.5 546.8,178.0C547.3,177.5 547.8,177.1 548.3,176.6C548.8,176.1 549.3,175.7 549.8,175.2C550.3,174.7 551.1,174.0 551.3,173.8" stroke="#ea1c0d" stroke-width="1.55"/>
<path d="M83.3,422.6C83.5,422.3 84.1,421.6 84.6,421.0C85.0,420.5 85.3,419.9 85.7,419.4C86.1,418.8 86.5,418.3 86.8,417.7C87.2,417.2 87.5,416.6 87.8,416.0C88.2,415.4 88.5,414.8 88.8,414.3C89.1,413.7 89.4,413.1 89.7,412.5C90.0,411.9 90.3,411.3 90.5,410.7C90.8,410.1 91.1,409.4 91.3,408.8C91.6,408.2 91.8,407.6 92.1,407.0C92.3,406.3 92.5,405.7 92.8,405.1C93.0,404.4 93.2,403.8 93.4,403.2C93.6,402.5 93.9,401.9 94.1,401.3C94.3,400.6 94.5,400.0 94.7,399.3C94.9,398.7 95.0,398.0 95.2,397.4C95.4,396.8 95.6,396.1 95.8,395.5C96.0,394.8 96.2,394.2 96.3,393.5C96.5,392.9 96.7,392.2 96.9,391.6C97.0,390.9 97.2,390.3 97.4,389.6C97.6,389.0 97.7,388.3 97.9,387.7C98.1,387.0 98.2,386.4 98.4,385.8C98.5,385.1 98.7,384.5 98.9,383.8C99.0,383.2 99.2,382.5 99.3,381.9C99.5,381.2 99.6,380.6 99.8,379.9C99.9,379.3 100.1,378.6 100.2,378.0C100.4,377.3 100.5,376.7 100.7,376.0C100.8,375.4 101.0,374.7 101.1,374.1C101.2,373.4 101.4,372.8 101.5,372.1C101.7,371.5 101.8,370.8 101.9,370.1C102.1,369.5 102.2,368.8 102.3,368.2C102.5,367.5 102.6,366.9 102.7,366.2C102.9,365.6 103.0,364.9 103.1,364.3C103.3,363.6 103.4,363.0 103.5,362.3C103.6,361.7 103.8,361.0 103.9,360.4C104.0,359.7 104.1,359.0 104.3,358.4C104.4,357.7 104.5,357.1 104.6,356.4C104.8,355.8 104.9,355.1 105.0,354.5C105.1,353.8 105.2,353.1 105.4,352.5C105.5,351.8 105.6,351.2 105.7,350.5C105.8,349.9 106.0,349.2 106.1,348.5C106.2,347.9 106.3,347.2 106.4,346.6C106.5,345.9 106.7,345.3 106.8,344.6C106.9,343.9 107.0,343.3 107.1,342.6C107.2,342.0 107.3,341.3 107.5,340.7C107.6,340.0 107.7,339.3 107.8,338.7C107.9,338.0 108.0,337.4 108.2,336.7C108.3,336.0 108.4,335.4 108.5,334.7C108.6,334.1 108.7,333.4 108.8,332.7C109.0,332.1 109.1,331.4 109.2,330.7C109.3,330.1 109.4,329.4 109.5,328.8C109.7,328.1 109.8,327.4 109.9,326.8C110.0,326.1 110.1,325.5 110.2,324.8C110.4,324.1 110.5,323.5 110.6,322.8C110.7,322.1 110.8,321.5 110.9,320.8C111.1,320.2 111.2,319.5 111.3,318.8C111.4,318.2 111.5,317.5 111.7,316.9C111.8,316.2 111.9,315.5 112.0,314.9C112.1,314.2 112.3,313.6 112.4,312.9C112.5,312.2 112.6,311.6 112.8,310.9C112.9,310.3 113.0,309.6 113.1,308.9C113.2,308.3 113.4,307.6 113.5,307.0C113.6,306.3 113.7,305.7 113.9,305.0C114.0,304.3 114.1,303.7 114.3,303.0C114.4,302.4 114.5,301.7 114.6,301.1C114.8,300.4 114.9,299.7 115.0,299.1C115.2,298.4 115.3,297.8 115.4,297.1C115.6,296.5 115.7,295.8 115.8,295.2C116.0,294.5 116.1,293.9 116.3,293.2C116.4,292.6 116.5,291.9 116.7,291.3C116.8,290.6 117.0,290.0 117.1,289.3C117.2,288.7 117.4,288.0 117.5,287.4C117.7,286.7 117.8,286.1 118.0,285.4C118.1,284.8 118.3,284.1 118.4,283.5C118.6,282.8 118.7,282.2 118.9,281.5C119.0,280.9 119.2,280.3 119.3,279.6C119.5,279.0 119.6,278.3 119.8,277.7C119.9,277.0 120.1,276.4 120.2,275.8C120.4,275.1 120.6,274.5 120.7,273.8C120.9,273.2 121.0,272.5 121.2,271.9C121.3,271.3 121.5,270.6 121.7,270.0C121.8,269.3 122.0,268.7 122.1,268.0C122.3,267.4 122.5,266.8 122.6,266.1C122.8,265.5 123.0,264.8 123.1,264.2C123.3,263.5 123.4,262.9 123.6,262.2C123.8,261.6 123.9,260.9 124.1,260.3C124.2,259.6 124.4,259.0 124.6,258.3C124.7,257.7 124.9,257.0 125.1,256.4C125.2,255.7 125.4,255.1 125.5,254.4C125.7,253.7 125.9,253.1 126.0,252.4C126.2,251.8 126.3,251.1 126.5,250.4C126.6,249.8 126.8,249.1 127.0,248.4C127.1,247.8 127.3,247.1 127.4,246.4C127.6,245.7 127.7,245.1 127.9,244.4C128.0,243.7 128.2,243.0 128.3,242.4C128.5,241.7 128.6,241.0 128.8,240.3C129.0,239.6 129.1,239.0 129.3,238.3C129.5,237.6 129.7,237.0 129.9,236.3C130.1,235.7 130.3,235.1 130.6,234.5C130.8,233.9 131.1,233.3 131.4,232.7C131.7,232.2 132.0,231.6 132.4,231.1C132.8,230.6 133.2,230.2 133.6,229.7C134.1,229.3 134.6,228.9 135.1,228.5C135.6,228.2 136.2,227.9 136.8,227.7C137.3,227.5 137.9,227.4 138.5,227.4C139.0,227.5 139.6,227.7 140.1,228.0C140.5,228.3 141.0,228.9 141.4,229.5C141.8,230.1 142.2,230.8 142.6,231.5C142.9,232.2 143.2,233.0 143.6,233.7C143.9,234.4 144.2,235.0 144.5,235.7C144.8,236.3 145.1,236.9 145.3,237.5C145.6,238.1 145.9,238.7 146.1,239.3C146.3,239.9 146.6,240.4 146.8,241.0C147.1,241.6 147.3,242.2 147.5,242.9C147.7,243.5 147.9,244.1 148.1,244.7C148.3,245.3 148.5,246.0 148.7,246.6C148.9,247.2 149.1,247.9 149.3,248.5C149.5,249.2 149.7,249.8 149.9,250.5C150.1,251.1 150.3,251.8 150.5,252.4C150.6,253.1 150.8,253.7 151.0,254.3C151.2,255.0 151.4,255.6 151.5,256.3C151.7,256.9 151.9,257.6 152.1,258.2C152.2,258.9 152.4,259.5 152.6,260.2C152.8,260.8 152.9,261.5 153.1,262.1C153.3,262.8 153.4,263.4 153.6,264.1C153.8,264.7 154.0,265.4 154.1,266.0C154.3,266.7 154.4,267.3 154.6,268.0C154.8,268.6 154.9,269.3 155.1,269.9C155.3,270.6 155.4,271.2 155.6,271.9C155.7,272.5 155.9,273.2 156.0,273.8C156.2,274.5 156.3,275.1 156.5,275.8C156.7,276.4 156.8,277.1 157.0,277.7C157.1,278.4 157.3,279.0 157.4,279.7C157.6,280.3 157.7,281.0 157.8,281.6C158.0,282.3 158.1,282.9 158.3,283.6C158.4,284.2 158.6,284.9 158.7,285.5C158.9,286.2 159.0,286.8 159.1,287.5C159.3,288.1 159.4,288.8 159.6,289.4C159.7,290.1 159.9,290.7 160.0,291.4C160.1,292.0 160.3,292.7 160.4,293.3C160.5,294.0 160.7,294.7 160.8,295.3C160.9,296.0 161.1,296.6 161.2,297.3C161.3,297.9 161.5,298.6 161.6,299.2C161.7,299.9 161.9,300.5 162.0,301.2C162.1,301.8 162.3,302.5 162.4,303.2C162.5,303.8 162.7,304.5 162.8,305.1C162.9,305.8 163.1,306.4 163.2,307.1C163.3,307.7 163.4,308.4 163.6,309.0C163.7,309.7 163.8,310.4 163.9,311.0C164.1,311.7 164.2,312.3 164.3,313.0C164.5,313.6 164.6,314.3 164.7,314.9C164.8,315.6 165.0,316.3 165.1,316.9C165.2,317.6 165.3,318.2 165.4,318.9C165.6,319.5 165.7,320.2 165.8,320.9C165.9,321.5 166.1,322.2 166.2,322.8C166.3,323.5 166.4,324.1 166.6,324.8C166.7,325.5 166.8,326.1 166.9,326.8C167.1,327.4 167.2,328.1 167.3,328.8C167.4,329.4 167.5,330.1 167.7,330.7C167.8,331.4 167.9,332.0 168.0,332.7C168.2,333.4 168.3,334.0 168.4,334.7C168.5,335.3 168.6,336.0 168.8,336.7C168.9,337.3 169.0,338.0 169.1,338.6C169.3,339.3 169.4,340.0 169.5,340.6C169.6,341.3 169.7,341.9 169.9,342.6C170.0,343.3 170.1,343.9 170.2,344.6C170.4,345.2 170.5,345.9 170.6,346.6C170.7,347.2 170.9,347.9 171.0,348.5C171.1,349.2 171.3,349.9 171.4,350.5C171.5,351.2 171.6,351.8 171.8,352.5C171.9,353.1 172.0,353.8 172.2,354.4C172.3,355.1 172.4,355.8 172.6,356.4C172.7,357.1 172.9,357.7 173.0,358.4C173.1,359.0 173.3,359.7 173.4,360.3C173.6,361.0 173.7,361.6 173.8,362.2C174.0,362.9 174.1,363.5 174.3,364.2C174.4,364.8 174.6,365.5 174.8,366.1C174.9,366.7 175.1,367.4 175.2,368.0C175.4,368.6 175.5,369.3 175.7,369.9C175.9,370.5 176.0,371.2 176.2,371.8C176.4,372.4 176.6,373.1 176.8,373.7C176.9,374.3 177.1,375.0 177.3,375.6C177.5,376.2 177.7,376.9 177.9,377.5C178.1,378.1 178.3,378.8 178.6,379.4C178.8,380.1 179.0,380.7 179.3,381.4C179.5,382.0 179.7,382.7 180.0,383.4C180.3,384.0 180.5,384.7 180.8,385.4C181.1,386.0 181.4,386.7 181.8,387.3C182.1,387.9 182.5,388.5 182.9,389.1C183.3,389.6 183.8,390.1 184.3,390.6C184.8,391.0 185.4,391.5 185.9,391.7C186.5,392.0 187.1,392.2 187.7,392.2C188.3,392.2 188.8,392.0 189.4,391.8C189.9,391.5 190.4,391.0 190.9,390.6C191.3,390.2 191.8,389.6 192.2,389.1C192.6,388.6 193.0,388.1 193.3,387.5C193.7,387.0 194.0,386.4 194.3,385.8C194.6,385.2 194.9,384.6 195.1,384.0C195.4,383.4 195.6,382.8 195.9,382.1C196.1,381.5 196.3,380.8 196.5,380.2C196.7,379.6 196.9,378.9 197.1,378.2C197.3,377.6 197.5,376.9 197.7,376.3C197.8,375.6 198.0,375.0 198.2,374.3C198.4,373.7 198.5,373.0 198.7,372.3C198.9,371.7 199.1,371.0 199.2,370.4C199.4,369.7 199.6,369.1 199.7,368.4C199.9,367.8 200.1,367.1 200.2,366.5C200.4,365.8 200.6,365.1 200.7,364.5C200.9,363.8 201.0,363.2 201.2,362.5C201.4,361.9 201.5,361.2 201.7,360.6C201.8,359.9 202.0,359.3 202.1,358.6C202.3,358.0 202.4,357.3 202.6,356.7C202.7,356.0 202.9,355.4 203.0,354.7C203.2,354.1 203.3,353.4 203.4,352.8C203.6,352.1 203.7,351.5 203.9,350.8C204.0,350.2 204.1,349.5 204.3,348.9C204.4,348.2 204.6,347.6 204.7,346.9C204.8,346.3 205.0,345.6 205.1,345.0C205.3,344.3 205.4,343.7 205.5,343.0C205.7,342.4 205.8,341.7 205.9,341.1C206.1,340.4 206.2,339.8 206.3,339.1C206.5,338.5 206.6,337.8 206.8,337.1C206.9,336.5 207.0,335.8 207.2,335.2C207.3,334.5 207.4,333.9 207.6,333.2C207.7,332.6 207.8,331.9 208.0,331.3C208.1,330.6 208.2,330.0 208.4,329.3C208.5,328.7 208.6,328.0 208.8,327.4C208.9,326.7 209.1,326.1 209.2,325.4C209.3,324.8 209.5,324.1 209.6,323.5C209.7,322.8 209.9,322.2 210.0,321.5C210.2,320.9 210.3,320.2 210.4,319.5C210.6,318.9 210.7,318.2 210.9,317.6C211.0,316.9 211.1,316.3 211.3,315.6C211.4,315.0 211.6,314.3 211.7,313.7C211.9,313.0 212.0,312.4 212.1,311.7C212.3,311.0 212.4,310.4 212.6,309.7C212.7,309.1 212.9,308.4 213.0,307.8C213.1,307.1 213.3,306.5 213.4,305.8C213.6,305.1 213.7,304.5 213.9,303.8C214.0,303.2 214.1,302.5 214.3,301.9C214.4,301.2 214.6,300.6 214.7,299.9C214.9,299.3 215.0,298.6 215.1,297.9C215.3,297.3 215.4,296.6 215.6,296.0C215.7,295.3 215.9,294.7 216.0,294.0C216.1,293.4 216.3,292.7 216.4,292.0C216.6,291.4 216.7,290.7 216.8,290.1C217.0,289.4 217.1,288.8 217.3,288.1C217.4,287.5 217.5,286.8 217.7,286.1C217.8,285.5 218.0,284.8 218.1,284.2C218.2,283.5 218.4,282.9 218.5,282.2C218.7,281.6 218.8,280.9 218.9,280.3C219.1,279.6 219.2,278.9 219.3,278.3C219.5,277.6 219.6,277.0 219.7,276.3C219.9,275.7 220.0,275.0 220.1,274.4C220.3,273.7 220.4,273.1 220.5,272.4C220.7,271.7 220.8,271.1 220.9,270.4C221.1,269.8 221.2,269.1 221.3,268.5C221.5,267.8 221.6,267.2 221.7,266.5C221.9,265.9 222.0,265.2 222.1,264.5C222.3,263.9 222.4,263.2 222.5,262.6C222.7,261.9 222.8,261.3 222.9,260.6C223.0,260.0 223.2,259.3 223.3,258.7C223.4,258.0 223.6,257.4 223.7,256.7C223.8,256.1 224.0,255.4 224.1,254.7C224.2,254.1 224.3,253.4 224.5,252.8C224.6,252.1 224.7,251.5 224.9,250.8C225.0,250.2 225.1,249.5 225.3,248.9C225.4,248.2 225.5,247.6 225.7,246.9C225.8,246.2 225.9,245.6 226.1,244.9C226.2,244.3 226.3,243.6 226.4,243.0C226.6,242.3 226.7,241.7 226.8,241.0C227.0,240.4 227.1,239.7 227.2,239.1C227.4,238.4 227.5,237.7 227.6,237.1C227.8,236.4 227.9,235.8 228.0,235.1C228.2,234.5 228.3,233.8 228.5,233.2C228.6,232.5 228.7,231.9 228.9,231.2C229.0,230.6 229.1,229.9 229.3,229.2C229.4,228.6 229.5,227.9 229.7,227.3C229.8,226.6 230.0,226.0 230.1,225.3C230.2,224.7 230.4,224.0 230.5,223.4C230.7,222.7 230.8,222.0 230.9,221.4C231.1,220.7 231.2,220.1 231.4,219.4C231.5,218.8 231.7,218.1 231.8,217.5C231.9,216.8 232.1,216.2 232.2,215.5C232.4,214.8 232.5,214.2 232.7,213.5C232.8,212.9 233.0,212.2 233.1,211.6C233.3,210.9 233.4,210.3 233.6,209.6C233.7,208.9 233.9,208.3 234.0,207.6C234.2,207.0 234.3,206.3 234.5,205.7C234.6,205.0 234.8,204.4 234.9,203.7C235.1,203.0 235.3,202.4 235.4,201.7C235.6,201.1 235.7,200.4 235.9,199.8C236.1,199.1 236.2,198.4 236.4,197.8C236.6,197.2 236.8,196.5 237.0,195.9C237.2,195.2 237.4,194.6 237.6,194.0C237.9,193.4 238.2,192.8 238.5,192.2C238.8,191.6 239.1,191.0 239.5,190.4C239.9,189.9 240.3,189.3 240.7,188.8C241.2,188.3 241.7,187.8 242.3,187.4C242.8,187.0 243.4,186.6 244.0,186.4C244.6,186.3 245.3,186.2 245.8,186.3C246.4,186.3 246.9,186.5 247.4,186.7C247.9,187.0 248.4,187.3 248.8,187.7C249.2,188.1 249.6,188.6 250.0,189.2C250.3,189.7 250.7,190.3 251.0,190.9C251.3,191.4 251.6,192.1 251.9,192.7C252.3,193.3 252.6,194.0 252.9,194.6C253.1,195.2 253.4,195.9 253.7,196.5C254.0,197.1 254.3,197.7 254.6,198.4C254.9,199.0 255.1,199.6 255.4,200.3C255.7,200.9 255.9,201.5 256.2,202.2C256.4,202.8 256.7,203.4 257.0,204.1C257.2,204.7 257.5,205.3 257.7,206.0C257.9,206.6 258.2,207.2 258.4,207.9C258.7,208.5 258.9,209.1 259.1,209.8C259.3,210.4 259.6,211.1 259.8,211.7C260.0,212.3 260.2,213.0 260.5,213.6C260.7,214.2 260.9,214.9 261.1,215.5C261.3,216.2 261.5,216.8 261.7,217.4C261.9,218.1 262.1,218.7 262.3,219.3C262.5,220.0 262.7,220.6 262.9,221.3C263.1,221.9 263.3,222.5 263.5,223.2C263.6,223.8 263.8,224.5 264.0,225.1C264.2,225.8 264.4,226.4 264.5,227.0C264.7,227.7 264.9,228.3 265.1,229.0C265.2,229.6 265.4,230.2 265.6,230.9C265.7,231.5 265.9,232.2 266.1,232.8C266.2,233.5 266.4,234.1 266.6,234.8C266.7,235.4 266.9,236.0 267.0,236.7C267.2,237.3 267.4,238.0 267.5,238.6C267.7,239.3 267.8,239.9 268.0,240.6C268.1,241.2 268.3,241.9 268.4,242.5C268.6,243.2 268.7,243.8 268.9,244.4C269.0,245.1 269.2,245.7 269.3,246.4C269.5,247.0 269.6,247.7 269.7,248.3C269.9,249.0 270.0,249.6 270.2,250.3C270.3,250.9 270.5,251.6 270.6,252.2C270.8,252.9 270.9,253.5 271.0,254.2C271.2,254.8 271.3,255.5 271.5,256.1C271.6,256.8 271.8,257.4 271.9,258.1C272.0,258.7 272.2,259.4 272.3,260.0C272.5,260.7 272.6,261.3 272.8,262.0C272.9,262.6 273.0,263.3 273.2,263.9C273.3,264.6 273.5,265.2 273.6,265.9C273.8,266.6 273.9,267.2 274.1,267.9C274.2,268.5 274.4,269.2 274.5,269.8C274.7,270.5 274.8,271.1 275.0,271.8C275.1,272.4 275.3,273.1 275.4,273.7C275.6,274.4 275.7,275.0 275.9,275.7C276.1,276.3 276.2,277.0 276.4,277.6C276.5,278.3 276.7,278.9 276.9,279.6C277.0,280.2 277.2,280.9 277.4,281.5C277.5,282.2 277.7,282.8 277.9,283.5C278.0,284.1 278.2,284.8 278.4,285.4C278.6,286.1 278.8,286.7 278.9,287.3C279.1,288.0 279.3,288.6 279.5,289.3C279.7,289.9 279.9,290.6 280.1,291.2C280.3,291.8 280.4,292.5 280.6,293.1C280.8,293.8 281.0,294.4 281.3,295.0C281.5,295.7 281.7,296.3 281.9,296.9C282.1,297.6 282.3,298.2 282.5,298.8C282.7,299.5 283.0,300.1 283.2,300.7C283.4,301.4 283.6,302.0 283.9,302.6C284.1,303.2 284.3,303.9 284.6,304.5C284.8,305.1 285.1,305.7 285.3,306.3C285.5,307.0 285.8,307.6 286.1,308.2C286.3,308.8 286.6,309.4 286.8,310.0C287.1,310.7 287.4,311.3 287.6,311.9C287.9,312.5 288.2,313.1 288.5,313.7C288.8,314.3 289.0,314.9 289.3,315.5C289.6,316.1 289.9,316.7 290.2,317.3C290.5,317.9 290.8,318.5 291.1,319.1C291.4,319.7 291.8,320.3 292.1,320.9C292.4,321.5 292.7,322.0 293.1,322.6C293.4,323.2 293.7,323.8 294.1,324.4C294.4,324.9 294.8,325.5 295.1,326.1C295.5,326.6 295.9,327.2 296.2,327.8C296.6,328.3 297.0,328.9 297.3,329.4C297.7,330.0 298.1,330.5 298.5,331.1C298.9,331.6 299.3,332.2 299.7,332.7C300.1,333.2 300.5,333.8 301.0,334.3C301.4,334.8 301.8,335.3 302.2,335.8C302.7,336.4 303.1,336.9 303.6,337.4C304.0,337.9 304.5,338.3 304.9,338.8C305.4,339.3 305.9,339.8 306.4,340.3C306.9,340.7 307.3,341.1 307.9,341.5C308.4,341.8 308.9,342.1 309.5,342.2C310.1,342.4 310.8,342.4 311.4,342.3C312.0,342.2 312.7,342.0 313.3,341.7C314.0,341.5 314.6,341.2 315.1,340.8C315.7,340.4 316.2,340.0 316.7,339.6C317.2,339.2 317.7,338.7 318.2,338.2C318.6,337.7 319.0,337.1 319.5,336.6C319.9,336.0 320.3,335.5 320.6,334.9C321.0,334.3 321.4,333.7 321.8,333.1C322.1,332.5 322.5,331.9 322.8,331.3C323.1,330.8 323.5,330.2 323.8,329.6C324.1,329.0 324.5,328.4 324.8,327.8C325.1,327.2 325.4,326.6 325.7,326.0C326.0,325.4 326.3,324.8 326.6,324.2C326.9,323.6 327.2,323.1 327.5,322.5C327.8,321.9 328.1,321.3 328.4,320.7C328.7,320.1 329.0,319.5 329.3,318.9C329.6,318.3 329.9,317.7 330.2,317.2C330.5,316.6 330.8,316.0 331.1,315.4C331.5,314.8 331.8,314.2 332.1,313.7C332.4,313.1 332.7,312.5 333.1,311.9C333.4,311.3 333.7,310.8 334.0,310.2C334.4,309.6 334.7,309.0 335.0,308.4C335.4,307.9 335.7,307.3 336.0,306.7C336.4,306.1 336.7,305.5 337.0,305.0C337.4,304.4 337.7,303.8 338.0,303.2C338.4,302.6 338.7,302.1 339.0,301.5C339.4,300.9 339.7,300.3 340.0,299.7C340.4,299.2 340.7,298.6 341.0,298.0C341.4,297.4 341.7,296.8 342.0,296.3C342.4,295.7 342.7,295.1 343.0,294.5C343.3,293.9 343.7,293.3 344.0,292.7C344.3,292.2 344.6,291.6 345.0,291.0C345.3,290.4 345.6,289.8 345.9,289.2C346.2,288.6 346.6,288.0 346.9,287.5C347.2,286.9 347.5,286.3 347.8,285.7C348.2,285.1 348.5,284.5 348.8,283.9C349.1,283.3 349.4,282.7 349.7,282.1C350.0,281.5 350.4,281.0 350.7,280.4C351.0,279.8 351.3,279.2 351.6,278.6C351.9,278.0 352.2,277.4 352.5,276.8C352.9,276.2 353.2,275.6 353.5,275.0C353.8,274.4 354.1,273.8 354.4,273.3C354.7,272.7 355.0,272.1 355.4,271.5C355.7,270.9 356.0,270.3 356.3,269.7C356.6,269.1 356.9,268.5 357.2,267.9C357.6,267.3 357.9,266.8 358.2,266.2C358.5,265.6 358.8,265.0 359.1,264.4C359.5,263.8 359.8,263.2 360.1,262.6C360.4,262.1 360.8,261.5 361.1,260.9C361.4,260.3 361.7,259.7 362.0,259.1C362.4,258.5 362.7,258.0 363.0,257.4C363.4,256.8 363.7,256.2 364.0,255.6C364.3,255.1 364.7,254.5 365.0,253.9C365.3,253.3 365.7,252.8 366.0,252.2C366.4,251.6 366.7,251.0 367.0,250.5C367.4,249.9 367.7,249.3 368.1,248.8C368.4,248.2 368.8,247.6 369.1,247.1C369.5,246.5 369.8,245.9 370.2,245.4C370.5,244.8 370.9,244.2 371.3,243.7C371.6,243.1 372.0,242.6 372.3,242.0C372.7,241.5 373.1,240.9 373.5,240.3C373.8,239.8 374.2,239.2 374.6,238.7C375.0,238.1 375.3,237.6 375.7,237.1C376.1,236.5 376.5,236.0 376.9,235.4C377.3,234.9 377.7,234.4 378.1,233.8C378.5,233.3 378.9,232.7 379.3,232.2C379.7,231.7 380.1,231.2 380.5,230.6C380.9,230.1 381.3,229.6 381.7,229.1C382.1,228.5 382.6,228.0 383.0,227.5C383.4,227.0 383.8,226.5 384.3,226.0C384.7,225.4 385.2,224.9 385.6,224.4C386.0,223.9 386.5,223.4 386.9,222.9C387.4,222.4 387.8,221.9 388.3,221.4C388.8,220.9 389.2,220.5 389.7,220.0C390.1,219.5 390.6,219.0 391.1,218.5C391.6,218.0 392.0,217.6 392.5,217.1C393.0,216.6 393.5,216.1 394.0,215.7C394.4,215.2 394.9,214.8 395.4,214.3C395.9,213.8 396.4,213.4 396.9,212.9C397.4,212.5 397.9,212.1 398.4,211.6C398.9,211.2 399.4,210.7 400.0,210.3C400.5,209.9 401.0,209.4 401.5,209.0C402.0,208.6 402.6,208.2 403.1,207.8C403.6,207.4 404.2,207.0 404.7,206.6C405.2,206.2 405.8,205.8 406.3,205.4C406.8,205.0 407.4,204.6 407.9,204.2C408.5,203.8 409.0,203.4 409.6,203.1C410.2,202.7 410.7,202.3 411.3,202.0C411.8,201.6 412.4,201.3 413.0,200.9C413.5,200.6 414.1,200.2 414.7,199.9C415.3,199.5 415.8,199.2 416.4,198.9C417.0,198.6 417.6,198.3 418.2,197.9C418.8,197.6 419.3,197.3 419.9,197.0C420.5,196.7 421.1,196.4 421.7,196.1C422.3,195.9 422.9,195.6 423.5,195.3C424.1,195.0 424.8,194.8 425.4,194.5C426.0,194.2 426.6,194.0 427.2,193.7C427.8,193.5 428.4,193.3 429.1,193.0C429.7,192.8 430.3,192.6 430.9,192.3C431.6,192.1 432.2,191.9 432.8,191.7C433.5,191.5 434.1,191.3 434.7,191.1C435.4,190.9 436.0,190.7 436.7,190.6C437.3,190.4 437.9,190.2 438.6,190.0C439.2,189.9 439.9,189.7 440.5,189.5C441.2,189.4 441.8,189.2 442.5,189.1C443.1,189.0 443.8,188.8 444.4,188.7C445.1,188.6 445.8,188.4 446.4,188.3C447.1,188.2 447.7,188.1 448.4,188.0C449.1,187.9 449.7,187.8 450.4,187.7C451.0,187.6 451.7,187.5 452.4,187.4C453.0,187.3 453.7,187.2 454.4,187.2C455.0,187.1 455.7,187.0 456.4,187.0C457.0,186.9 457.7,186.8 458.4,186.8C459.0,186.7 459.7,186.7 460.4,186.6C461.1,186.6 461.7,186.6 462.4,186.5C463.1,186.5 463.7,186.5 464.4,186.5C465.1,186.4 465.7,186.4 466.4,186.4C467.1,186.4 467.8,186.4 468.4,186.4C469.1,186.4 469.8,186.4 470.4,186.4C471.1,186.4 471.8,186.5 472.4,186.5C473.1,186.5 473.8,186.5 474.4,186.6C475.1,186.6 475.8,186.6 476.5,186.7C477.1,186.7 477.8,186.7 478.4,186.8C479.1,186.8 479.8,186.9 480.4,186.9C481.1,187.0 481.8,187.1 482.4,187.1C483.1,187.2 483.8,187.3 484.4,187.3C485.1,187.4 485.8,187.5 486.4,187.6C487.1,187.6 487.7,187.7 488.4,187.8C489.1,187.9 489.7,188.0 490.4,188.1C491.0,188.2 491.7,188.3 492.4,188.4C493.0,188.5 493.7,188.6 494.3,188.7C495.0,188.8 495.7,188.9 496.3,189.0C497.0,189.1 497.6,189.2 498.3,189.3C499.0,189.4 499.6,189.6 500.3,189.7C500.9,189.8 501.6,189.9 502.2,190.0C502.9,190.2 503.6,190.3 504.2,190.4C504.9,190.6 505.5,190.7 506.2,190.8C506.8,190.9 507.5,191.1 508.1,191.2C508.8,191.3 509.5,191.5 510.1,191.6C510.8,191.8 511.4,191.9 512.1,192.0C512.7,192.2 513.4,192.3 514.0,192.5C514.7,192.6 515.3,192.8 516.0,192.9C516.7,193.0 517.3,193.2 518.0,193.3C518.6,193.5 519.3,193.6 519.9,193.8C520.6,193.9 521.2,194.1 521.9,194.2C522.5,194.4 523.2,194.5 523.8,194.7C524.5,194.8 525.2,195.0 525.8,195.1C526.5,195.3 527.1,195.4 527.8,195.6C528.4,195.7 529.1,195.9 529.7,196.0C530.4,196.2 531.0,196.3 531.7,196.5C532.3,196.6 533.0,196.7 533.6,196.9C534.3,197.0 535.0,197.2 535.6,197.3C536.3,197.5 536.9,197.6 537.6,197.8C538.2,197.9 538.9,198.0 539.5,198.2C540.2,198.3 540.8,198.5 541.5,198.6C542.1,198.7 542.8,198.9 543.4,199.0C544.1,199.1 544.8,199.3 545.4,199.4C546.1,199.5 546.7,199.6 547.4,199.8C548.0,199.9 548.7,200.0 549.3,200.1C550.0,200.3 551.0,200.4 551.3,200.5" stroke="#0d0a0b" stroke-width="1.4"/>
</g>
<g font-size="9.7" font-weight="bold" fill="#1a1516" stroke="#1a1516" stroke-width="0.25" text-rendering="geometricPrecision">
<text x="48.9" y="146.8">100</text>
<text x="48.1" y="174.5">90</text>
<text x="48.1" y="202.2">80</text>
<text x="48.1" y="229.9">70</text>
<text x="48.1" y="257.6">60</text>
<text x="48.1" y="285.3">50</text>
<text x="48.1" y="313.0">40</text>
<text x="48.1" y="340.7">30</text>
<text x="48.1" y="368.4">20</text>
<text x="48.1" y="396.1">10</text>
<text x="48.1" y="423.8">0</text>
<text x="56" y="435.1">200</text>
<text x="104" y="435.1">300</text>
<text x="152.5" y="435.1">400</text>
<text x="200.8" y="435.1">500</text>
<text x="248.8" y="435.1">600</text>
<text x="297.6" y="435.1">700</text>
<text x="345.2" y="435.1">800</text>
<text x="395.4" y="435.1">900</text>
<text x="442.3" y="435.1">1000</text>
<text x="496" y="435.1">1500</text>
<text x="535.3" y="435.1">2500</text>
</g>
<g font-size="10" fill="#1a1516" stroke="#1a1516" stroke-width="0.15" text-rendering="geometricPrecision">
<text x="267.6" y="446" textLength="68.8" lengthAdjust="spacingAndGlyphs">Wavelength (nm)</text>
<text transform="translate(40.8,329.7) rotate(-90)" textLength="76.3" lengthAdjust="spacingAndGlyphs">Transmittance (T%)</text>
</g>
<g transform="translate(323.8,321.2) rotate(-54)"><rect x="-0.5" y="-8" width="20.0" height="8.8" fill="#fff"/><text font-size="10" fill="#1f1a1b" textLength="19" lengthAdjust="spacingAndGlyphs">LB16</text></g>
<g transform="translate(342.3,373.2) rotate(-19)"><rect x="-0.5" y="-8" width="20.0" height="8.8" fill="#fff"/><text font-size="10" fill="#1f1a1b" textLength="19" lengthAdjust="spacingAndGlyphs">LB17</text></g>
<g transform="translate(376.6,406.8) rotate(-6.5)"><rect x="-0.5" y="-8" width="20.0" height="8.8" fill="#fff"/><text font-size="10" fill="#1f1a1b" textLength="19" lengthAdjust="spacingAndGlyphs">LB18</text></g>
<g transform="translate(217.6,401.9) rotate(0)"><rect x="-0.5" y="-8" width="20.0" height="8.8" fill="#fff"/><text font-size="10" fill="#1f1a1b" textLength="19" lengthAdjust="spacingAndGlyphs">LB19</text></g>
</svg></body></html>
